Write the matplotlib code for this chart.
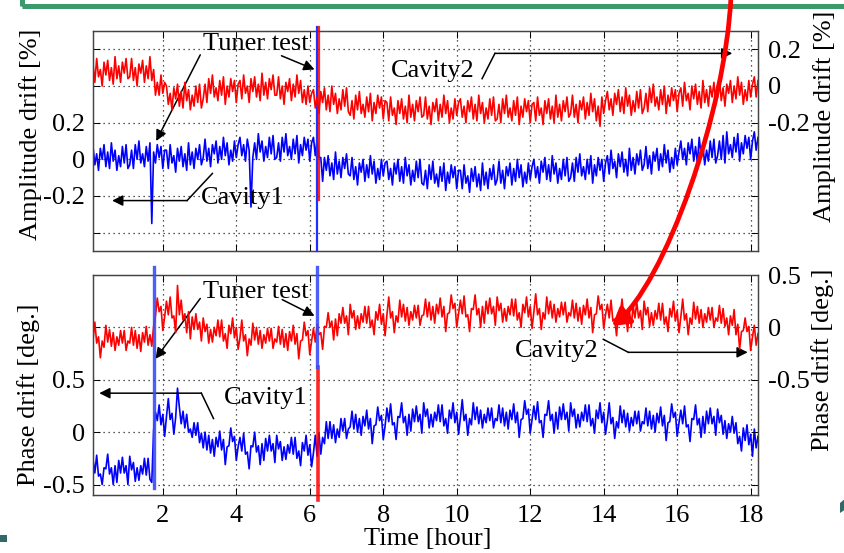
import numpy as np
import matplotlib
matplotlib.use("Agg")
import matplotlib.pyplot as plt
from matplotlib.path import Path
from matplotlib.patches import FancyArrowPatch, Rectangle, Polygon
from matplotlib.lines import Line2D

plt.rcParams['font.family'] = ['Liberation Serif', 'DejaVu Serif']
plt.rcParams['font.size'] = 19

# ---------------------------------------------------------------- data
# sampling of the logged drifts (hours); one row below = one hour
t_start = 0.1
t_step = 0.05

# amplitude drift [%], cavity 1 (left axis)
amp_cavity1 = [
    0.07, -0.03, 0.03, -0.06, 0.06, 0.00, 0.08, -0.04, 0.04, -0.05, 0.09, -0.01, 0.05, -0.06, 0.02, -0.04, 0.07, -0.02, 0.08, -0.05,
    -0.03, 0.05, -0.05, 0.08, 0.00, 0.10, -0.02, 0.03, -0.04, 0.07, -0.01, 0.09, -0.35, 0.04, -0.02, 0.08, 0.01, 0.07, -0.05, 0.05,
    0.05, -0.05, 0.08, -0.02, 0.02, -0.07, 0.06, -0.01, 0.07, -0.04, 0.03, -0.06, 0.09, -0.03, 0.04, -0.05, 0.06, 0.00, 0.08, -0.03,
    0.01, 0.11, -0.01, 0.06, -0.04, 0.08, 0.03, 0.10, -0.02, 0.07, 0.00, 0.12, 0.02, 0.09, -0.03, 0.05, -0.01, 0.10, 0.01, 0.08,
    0.12, 0.02, 0.08, -0.01, 0.11, 0.05, -0.26, 0.01, 0.09, 0.00, 0.14, 0.04, 0.10, -0.01, 0.07, 0.01, 0.12, 0.03, 0.13, 0.00,
    0.01, 0.09, -0.01, 0.12, 0.04, 0.14, 0.02, 0.07, 0.00, 0.11, 0.03, 0.13, -0.02, 0.08, 0.02, 0.12, 0.05, 0.11, -0.01, 0.09,
    0.12, 0.02, 0.11, 0.01, 0.01, -0.12, 0.01, -0.06, 0.02, -0.09, -0.02, -0.11, 0.04, -0.08, -0.01, -0.10, 0.01, -0.05, 0.03, -0.08,
    -0.09, 0.01, -0.11, -0.04, -0.14, -0.02, -0.07, 0.00, -0.12, -0.03, -0.10, 0.02, -0.08, -0.01, -0.13, -0.05, -0.11, 0.00, -0.09, -0.02,
    -0.01, -0.11, -0.05, -0.14, -0.02, -0.08, 0.00, -0.12, -0.04, -0.13, 0.01, -0.09, -0.03, -0.14, -0.06, -0.12, -0.01, -0.10, 0.00, -0.13,
    -0.14, -0.06, -0.16, -0.03, -0.11, -0.01, -0.13, -0.08, -0.15, -0.04, -0.12, -0.02, -0.17, -0.07, -0.13, -0.03, -0.10, -0.04, -0.16, -0.06,
    -0.06, -0.16, -0.03, -0.13, -0.09, -0.18, -0.05, -0.12, -0.04, -0.15, -0.08, -0.17, -0.02, -0.14, -0.07, -0.16, -0.05, -0.11, -0.03, -0.14,
    -0.11, -0.01, -0.13, -0.06, -0.16, -0.04, -0.09, -0.02, -0.14, -0.05, -0.12, 0.00, -0.10, -0.03, -0.15, -0.07, -0.13, -0.02, -0.11, -0.04,
    0.00, -0.10, -0.04, -0.13, -0.01, -0.07, 0.01, -0.11, -0.03, -0.12, 0.02, -0.08, -0.02, -0.13, -0.05, -0.11, 0.00, -0.09, 0.01, -0.12,
    -0.10, -0.02, -0.12, 0.01, -0.07, 0.03, -0.09, -0.04, -0.11, 0.00, -0.08, 0.02, -0.13, -0.03, -0.09, 0.01, -0.06, 0.00, -0.12, -0.02,
    0.02, -0.08, 0.05, -0.05, -0.01, -0.10, 0.03, -0.04, 0.04, -0.07, 0.00, -0.09, 0.06, -0.06, 0.01, -0.08, 0.03, -0.03, 0.05, -0.06,
    -0.03, 0.07, -0.05, 0.02, -0.08, 0.04, -0.01, 0.06, -0.06, 0.03, -0.04, 0.08, -0.02, 0.05, -0.07, 0.01, -0.05, 0.06, -0.03, 0.04,
    0.10, 0.00, 0.06, -0.03, 0.09, 0.03, 0.11, -0.01, 0.07, -0.02, 0.12, 0.02, 0.08, -0.03, 0.05, -0.01, 0.10, 0.01, 0.11, -0.02,
    0.02, 0.10, 0.00, 0.13, -0.02, 0.15, 0.03, 0.08, 0.01, 0.12, 0.04, 0.14, -0.01, 0.09, 0.03, 0.13, 0.06, 0.12, 0.00, 0.10,
    0.15, 0.05, 0.12,
]

# amplitude drift [%], cavity 2 (right axis)
amp_cavity2 = [
    0.12, 0.02, 0.15, 0.05, 0.09, 0.00, 0.13, 0.06, 0.14, 0.03, 0.10, 0.01, 0.16, 0.04, 0.11, 0.02, 0.13, 0.07, 0.15, 0.04,
    0.05, 0.15, 0.03, 0.10, 0.00, 0.12, 0.07, 0.14, 0.02, 0.11, 0.04, 0.16, 0.03, 0.09, -0.05, 0.02, -0.05, 0.06, -0.04, 0.02,
    0.00, -0.10, -0.04, -0.13, -0.01, -0.07, 0.01, -0.11, -0.03, -0.12, 0.02, -0.08, -0.02, -0.13, -0.05, -0.11, 0.00, -0.09, 0.01, -0.12,
    -0.07, 0.01, -0.09, 0.04, -0.04, 0.06, -0.06, -0.01, -0.08, 0.03, -0.05, 0.05, -0.10, 0.00, -0.06, 0.04, -0.03, 0.03, -0.09, 0.01,
    0.03, -0.07, 0.06, -0.04, 0.00, -0.09, 0.04, -0.03, 0.05, -0.06, 0.01, -0.08, 0.07, -0.05, 0.02, -0.07, 0.04, -0.02, 0.06, -0.05,
    -0.05, 0.05, -0.07, 0.00, -0.10, 0.02, -0.03, 0.04, -0.08, 0.01, -0.06, 0.06, -0.04, 0.03, -0.09, -0.02, -0.10, 0.00, -0.09, -0.04,
    -0.02, -0.12, -0.06, -0.15, -0.03, -0.09, -0.01, -0.13, -0.05, -0.14, 0.00, -0.10, -0.04, -0.15, -0.07, -0.13, -0.02, -0.11, -0.01, -0.14,
    -0.16, -0.08, -0.18, -0.05, -0.13, -0.03, -0.15, -0.10, -0.17, -0.06, -0.14, -0.04, -0.19, -0.09, -0.15, -0.05, -0.12, -0.06, -0.18, -0.08,
    -0.09, -0.19, -0.06, -0.16, -0.12, -0.21, -0.08, -0.15, -0.07, -0.18, -0.11, -0.20, -0.05, -0.17, -0.10, -0.19, -0.08, -0.14, -0.06, -0.17,
    -0.16, -0.06, -0.18, -0.11, -0.21, -0.09, -0.14, -0.07, -0.19, -0.10, -0.17, -0.05, -0.15, -0.08, -0.20, -0.12, -0.18, -0.07, -0.16, -0.09,
    -0.07, -0.17, -0.11, -0.20, -0.08, -0.14, -0.06, -0.18, -0.10, -0.19, -0.05, -0.15, -0.09, -0.20, -0.12, -0.18, -0.07, -0.16, -0.06, -0.19,
    -0.18, -0.10, -0.20, -0.07, -0.15, -0.05, -0.17, -0.12, -0.19, -0.08, -0.16, -0.06, -0.21, -0.11, -0.17, -0.07, -0.14, -0.08, -0.20, -0.10,
    -0.09, -0.19, -0.06, -0.16, -0.12, -0.21, -0.08, -0.15, -0.07, -0.18, -0.11, -0.20, -0.05, -0.17, -0.10, -0.19, -0.08, -0.14, -0.06, -0.17,
    -0.15, -0.05, -0.17, -0.10, -0.20, -0.08, -0.13, -0.06, -0.18, -0.09, -0.16, -0.04, -0.14, -0.07, -0.19, -0.11, -0.22, -0.06, -0.15, -0.08,
    -0.03, -0.13, -0.07, -0.16, -0.04, -0.10, -0.02, -0.14, -0.06, -0.15, -0.01, -0.11, -0.05, -0.16, -0.08, -0.14, -0.03, -0.12, -0.02, -0.15,
    -0.12, -0.04, -0.14, -0.01, -0.09, 0.01, -0.11, -0.06, -0.13, -0.02, -0.10, 0.00, -0.15, -0.05, -0.11, -0.01, -0.08, -0.02, -0.14, -0.04,
    -0.01, -0.11, 0.02, -0.08, -0.04, -0.13, 0.00, -0.07, 0.01, -0.10, -0.03, -0.12, 0.03, -0.09, -0.02, -0.11, 0.00, -0.06, 0.02, -0.09,
    -0.06, 0.04, -0.08, -0.01, -0.11, 0.01, -0.04, 0.03, -0.09, 0.00, -0.07, 0.05, -0.05, 0.02, -0.10, -0.02, -0.08, 0.03, -0.06, 0.01,
    0.05, -0.06, 0.03,
]

# phase drift [deg.], cavity 1 (left axis)
phase_cavity1 = [
    -0.26, -0.39, -0.22, -0.42, -0.40, -0.50, -0.34, -0.35, -0.21, -0.40, -0.34, -0.50, -0.32, -0.48, -0.27, -0.39, -0.24, -0.39, -0.32, -0.50,
    -0.23, -0.36, -0.29, -0.47, -0.34, -0.46, -0.32, -0.40, -0.25, -0.41, -0.25, -0.45, -0.48, 0.02, 0.19, 0.11, 0.26, 0.07, 0.17, -0.04,
    0.15, 0.32, 0.12, 0.18, -0.02, 0.14, 0.42, 0.24, 0.08, 0.20, 0.04, 0.17, 0.00, 0.03, -0.05, 0.09, -0.03, 0.09, -0.10, -0.01,
    -0.15, 0.00, -0.17, -0.03, -0.20, -0.07, -0.23, -0.05, -0.14, 0.01, -0.17, -0.07, -0.31, -0.14, -0.13, 0.04, -0.09, -0.04, -0.27, -0.14,
    -0.05, -0.18, -0.01, -0.21, -0.19, -0.35, -0.13, -0.14, 0.00, -0.19, -0.13, -0.31, -0.11, -0.27, -0.06, -0.18, -0.03, -0.18, -0.11, -0.29,
    -0.03, -0.16, -0.09, -0.27, -0.14, -0.26, -0.12, -0.20, -0.05, -0.21, -0.05, -0.25, -0.18, -0.32, -0.10, -0.18, -0.03, -0.22, -0.12, -0.33,
    -0.20, -0.03, -0.23, -0.01, -0.21, -0.05, -0.11, 0.10, -0.06, 0.10, -0.06, 0.07, -0.10, 0.03, -0.05, 0.13, 0.01, 0.13, -0.06, 0.03,
    0.05, 0.20, 0.03, 0.17, 0.00, 0.13, -0.03, 0.15, 0.06, 0.21, 0.03, 0.13, -0.11, 0.06, 0.07, 0.24, 0.11, 0.16, -0.07, 0.06,
    0.23, 0.10, 0.27, 0.07, 0.09, -0.07, 0.15, 0.14, 0.28, 0.09, 0.15, -0.03, 0.17, 0.01, 0.22, 0.10, 0.25, 0.10, 0.17, -0.01,
    0.28, 0.15, 0.22, 0.04, 0.17, 0.05, 0.19, 0.11, 0.26, 0.10, 0.26, 0.06, 0.13, -0.01, 0.21, 0.13, 0.28, 0.09, 0.19, -0.02,
    0.14, 0.31, 0.11, 0.17, -0.03, 0.13, 0.07, 0.28, 0.12, 0.24, 0.08, 0.21, 0.04, 0.17, 0.09, 0.23, 0.11, 0.23, 0.04, 0.13,
    0.11, 0.26, 0.09, 0.23, 0.06, 0.19, 0.03, 0.21, 0.12, 0.27, 0.09, 0.19, -0.05, 0.12, 0.13, 0.30, 0.17, 0.22, -0.01, 0.12,
    0.25, 0.12, 0.29, 0.09, 0.11, -0.05, 0.17, 0.16, 0.30, 0.11, 0.17, -0.01, 0.19, 0.03, 0.24, 0.12, 0.27, 0.12, 0.19, 0.01,
    0.28, 0.15, 0.22, 0.04, 0.17, 0.05, 0.19, 0.11, 0.26, 0.10, 0.26, 0.06, 0.13, -0.01, 0.21, 0.13, 0.28, 0.09, 0.19, -0.02,
    0.11, 0.28, 0.08, 0.14, -0.06, 0.10, 0.04, 0.25, 0.09, 0.21, 0.05, 0.18, 0.01, 0.14, 0.06, 0.20, 0.08, 0.20, 0.01, 0.10,
    0.08, 0.23, 0.06, 0.20, 0.03, 0.16, 0.00, 0.18, 0.09, 0.24, 0.06, 0.16, -0.08, 0.09, 0.10, 0.27, 0.14, 0.19, -0.04, 0.09,
    0.21, 0.08, 0.25, 0.05, 0.07, -0.09, 0.13, 0.12, 0.26, 0.07, 0.13, -0.05, 0.15, -0.01, 0.20, 0.08, 0.23, 0.08, 0.15, -0.03,
    0.22, 0.09, 0.16, -0.02, 0.11, -0.06, 0.08, 0.00, 0.15, -0.01, 0.09, -0.11, -0.04, -0.18, 0.04, -0.08, 0.07, -0.12, -0.02, -0.23,
    0.03, -0.15, -0.04,
]

# phase drift [deg.], cavity 2 (right axis)
phase_cavity2 = [
    -0.12, 0.05, -0.15, -0.09, -0.29, -0.13, -0.19, 0.02, -0.14, -0.02, -0.18, -0.05, -0.22, -0.09, -0.17, -0.03, -0.15, -0.03, -0.22, -0.13,
    -0.15, 0.00, -0.17, -0.03, -0.20, -0.07, -0.23, -0.05, -0.14, 0.01, -0.17, -0.07, -0.18, 0.01, 0.11, 0.28, 0.15, 0.20, -0.03, 0.10,
    0.25, 0.12, 0.29, 0.09, 0.11, -0.05, 0.40, 0.12, 0.26, 0.07, 0.13, -0.05, 0.15, -0.11, 0.10, -0.02, 0.13, -0.02, 0.05, -0.13,
    0.09, -0.04, 0.03, -0.15, -0.02, -0.14, 0.00, -0.08, 0.07, -0.09, 0.07, -0.13, -0.06, -0.20, 0.02, -0.06, 0.09, -0.10, 0.00, -0.21,
    -0.10, 0.07, -0.13, -0.07, -0.27, -0.11, -0.17, 0.04, -0.12, 0.00, -0.16, -0.03, -0.20, -0.07, -0.15, -0.01, -0.13, -0.01, -0.20, -0.11,
    -0.14, 0.01, -0.16, -0.02, -0.19, -0.06, -0.22, -0.04, -0.13, 0.02, -0.16, -0.06, -0.30, -0.13, -0.12, 0.05, -0.08, -0.03, -0.26, -0.13,
    -0.01, -0.14, 0.03, -0.07, -0.05, -0.21, 0.01, 0.00, 0.14, 0.00, 0.06, -0.12, 0.08, -0.08, 0.13, 0.04, 0.19, 0.04, 0.11, -0.07,
    0.22, 0.09, 0.16, -0.02, 0.11, -0.01, 0.13, 0.05, 0.20, 0.04, 0.20, 0.00, 0.07, -0.07, 0.15, 0.07, 0.22, 0.03, 0.13, -0.08,
    0.12, 0.29, 0.09, 0.15, -0.05, 0.11, 0.05, 0.26, 0.10, 0.22, 0.06, 0.19, 0.02, 0.15, 0.07, 0.21, 0.09, 0.21, 0.02, 0.11,
    0.12, 0.27, 0.10, 0.24, 0.07, 0.20, 0.04, 0.22, 0.13, 0.28, 0.10, 0.20, -0.04, 0.13, 0.14, 0.31, 0.18, 0.23, 0.00, 0.13,
    0.26, 0.13, 0.30, 0.10, 0.12, -0.04, 0.18, 0.17, 0.31, 0.12, 0.18, 0.00, 0.20, 0.04, 0.25, 0.13, 0.28, 0.13, 0.20, 0.02,
    0.29, 0.16, 0.23, 0.05, 0.18, 0.06, 0.20, 0.12, 0.27, 0.11, 0.27, 0.07, 0.14, 0.00, 0.22, 0.14, 0.29, 0.10, 0.20, -0.01,
    0.15, 0.32, 0.12, 0.18, -0.02, 0.14, 0.08, 0.29, 0.13, 0.25, 0.09, 0.22, 0.05, 0.18, 0.10, 0.24, 0.12, 0.24, 0.05, 0.14,
    0.11, 0.26, 0.09, 0.23, 0.06, 0.19, 0.03, 0.21, 0.12, 0.27, 0.09, 0.19, -0.05, 0.12, 0.13, 0.30, 0.17, 0.22, -0.01, 0.12,
    0.22, 0.09, 0.26, 0.06, 0.08, -0.08, 0.14, 0.13, 0.27, 0.08, 0.14, -0.04, 0.16, 0.00, 0.21, 0.09, 0.24, 0.09, 0.16, -0.02,
    0.25, 0.12, 0.19, 0.01, 0.14, 0.02, 0.16, 0.08, 0.23, 0.07, 0.23, 0.03, 0.10, -0.04, 0.18, 0.10, 0.25, 0.06, 0.16, -0.05,
    0.10, 0.27, 0.07, 0.13, -0.07, 0.09, 0.03, 0.24, 0.08, 0.20, 0.04, 0.17, 0.00, 0.13, 0.05, 0.19, 0.07, 0.19, 0.00, 0.09,
    0.06, 0.21, 0.04, 0.18, 0.01, 0.09, -0.07, 0.11, 0.02, 0.17, -0.07, 0.03, -0.21, -0.04, -0.03, 0.09, -0.04, 0.01, -0.22, -0.09,
    0.02, -0.17, -0.06,
]

# times of the tuner tests (hours) as marked on each panel
amp_marks_blue = [6.19]
amp_marks_red = [6.25]
phase_marks_blue = [1.75, 6.19]
phase_marks_red = [6.23]

x_ticks = [2, 4, 6, 8, 10, 12, 14, 16, 18]
x_limits = (0.1, 18.2)

amp_left_ticks = [-0.4, -0.2, 0.0, 0.2, 0.4, 0.6]
amp_left_labels = ['', '-0.2', '0', '0.2', '', '']
amp_right_ticks = [-0.8, -0.6, -0.4, -0.2, 0.0, 0.2]
amp_right_labels = ['', '', '', '-0.2', '0', '0.2']
amp_left_lim = (-0.5, 0.7)
amp_offset = 0.4          # right scale = left scale - offset

phase_left_ticks = [-0.5, 0.0, 0.5, 1.0]
phase_left_labels = ['-0.5', '0', '0.5', '']
phase_right_ticks = [-1.5, -1.0, -0.5, 0.0, 0.5]
phase_right_labels = ['', '', '-0.5', '0', '0.5']
phase_left_lim = (-0.6, 1.5)
phase_offset = 1.0

RED = '#ff0000'
BLUE = '#0000ff'
TRACE_LW = 1.2
W, H = 845, 553


def fx(px):
    return px / W


def fy(py):
    return 1 - py / H


fig = plt.figure(figsize=(W / 100, H / 100), dpi=100)
fig.patch.set_facecolor('white')

ax_amp = fig.add_axes([fx(93), fy(251), 665 / W, 220 / H])
ax_ph = fig.add_axes([fx(93), fy(495), 665 / W, 220 / H])


def times(series):
    return t_start + t_step * np.arange(len(series))


def style_axes(ax, ax2, lticks, llabels, rticks, rlabels, llim, offset, xlabels):
    ax.set_xlim(*x_limits)
    ax.set_ylim(*llim)
    ax2.set_ylim(llim[0] - offset, llim[1] - offset)
    ax.set_xticks(x_ticks)
    if xlabels:
        ax.set_xticklabels([str(v) for v in x_ticks])
    else:
        ax.set_xticklabels([])
    ax.set_yticks(lticks)
    ax.set_yticklabels(llabels)
    ax2.set_yticks(rticks)
    ax2.set_yticklabels(rlabels)
    ax.grid(True, linestyle=(0, (1, 3)), color='#222222', linewidth=0.9)
    ax.tick_params(axis='x', direction='in', top=True, bottom=True, length=5,
                   width=0.7, pad=7, labelsize=19)
    ax.tick_params(axis='y', direction='in', left=True, right=False, length=5,
                   width=0.7, pad=6, labelsize=19)
    ax2.tick_params(axis='y', direction='in', right=True, length=5,
                    width=0.7, pad=7, labelsize=19)
    for a in (ax, ax2):
        for s in a.spines.values():
            s.set_color('#444444')
            s.set_linewidth(0.9)


# ---------------------------------------------------------------- amplitude
ax_amp2 = ax_amp.twinx()
ax_amp.plot(times(amp_cavity1), amp_cavity1, color=BLUE, lw=TRACE_LW)
ax_amp2.plot(times(amp_cavity2), amp_cavity2, color=RED, lw=TRACE_LW)
style_axes(ax_amp, ax_amp2, amp_left_ticks, amp_left_labels, amp_right_ticks,
           amp_right_labels, amp_left_lim, amp_offset, False)

for xv in amp_marks_blue:
    ax_amp.add_line(Line2D([xv, xv], [0, 1.018], transform=ax_amp.get_xaxis_transform(),
                           color='#2030ff', lw=1.6, clip_on=False, zorder=5))
for xv in amp_marks_red:
    ax_amp2.add_line(Line2D([xv, xv], [0.23, 1.018], transform=ax_amp2.get_xaxis_transform(),
                            color=RED, lw=1.6, clip_on=False, zorder=5, alpha=0.85))

# ---------------------------------------------------------------- phase
ax_ph2 = ax_ph.twinx()
ax_ph.plot(times(phase_cavity1), phase_cavity1, color=BLUE, lw=TRACE_LW)
ax_ph2.plot(times(phase_cavity2), phase_cavity2, color=RED, lw=TRACE_LW)
style_axes(ax_ph, ax_ph2, phase_left_ticks, phase_left_labels, phase_right_ticks,
           phase_right_labels, phase_left_lim, phase_offset, True)

for xv in phase_marks_red:
    ax_ph2.add_line(Line2D([xv, xv], [-0.023, 0.58], transform=ax_ph2.get_xaxis_transform(),
                           color=RED, lw=2.6, clip_on=False, zorder=5, alpha=0.85))
for xv in phase_marks_blue:
    y0 = 0.03 if xv < 3 else 0.58
    ax_ph2.add_line(Line2D([xv, xv], [y0, 1.036], transform=ax_ph2.get_xaxis_transform(),
                           color='#3a4df5', lw=2.4, clip_on=False, zorder=6, alpha=0.9))

# ---------------------------------------------------------------- annotations
ARROW = dict(arrowstyle='-|>', color='black', lw=1.1, shrinkA=0, shrinkB=0,
             mutation_scale=16)


def bent_arrow(ax, pts):
    xs = [p[0] for p in pts[:-1]]
    ys = [p[1] for p in pts[:-1]]
    ax.plot(xs, ys, color='black', lw=1.1, clip_on=False, zorder=7)
    ax.annotate('', xy=pts[-1], xytext=pts[-2], arrowprops=ARROW,
                annotation_clip=False, zorder=7)


# amplitude panel (left-axis coordinates)
ax_amp.text(4.52, 0.628, 'Tuner test', ha='center', va='center', zorder=8)
ax_amp.annotate('', xy=(1.82, 0.10), xytext=(3.02, 0.57), arrowprops=ARROW, zorder=7)
ax_amp.annotate('', xy=(6.13, 0.49), xytext=(5.23, 0.565), arrowprops=ARROW, zorder=7)
ax_amp.text(4.17, -0.213, 'Cavity1', ha='center', va='center', zorder=8)
bent_arrow(ax_amp, [(3.35, -0.077), (2.66, -0.225), (0.62, -0.225)])
ax_amp.text(9.35, 0.48, 'Cavity2', ha='center', va='center', zorder=8)
bent_arrow(ax_amp, [(10.69, 0.44), (11.04, 0.578), (17.5, 0.578)])

# phase panel (left-axis coordinates)
ax_ph.text(4.52, 1.333, 'Tuner test', ha='center', va='center', zorder=8)
ax_ph.annotate('', xy=(1.80, 0.70), xytext=(3.02, 1.276), arrowprops=ARROW, zorder=7)
ax_ph.annotate('', xy=(6.13, 1.11), xytext=(5.25, 1.265), arrowprops=ARROW, zorder=7)
ax_ph.text(4.80, 0.324, 'Cavity1', ha='center', va='center', zorder=8)
bent_arrow(ax_ph, [(3.38, 0.13), (3.05, 0.372), (0.27, 0.372)])
ax_ph.text(12.73, 0.77, 'Cavity2', ha='center', va='center', zorder=8)
bent_arrow(ax_ph, [(13.99, 0.886), (14.67, 0.762), (17.92, 0.762)])

# ---------------------------------------------------------------- axis titles
fig.text(fx(31), fy(134), 'Amplitude drift [%]', rotation=90, ha='center', va='center')
fig.text(fx(825), fy(116), 'Amplitude drift [%]', rotation=90, ha='center', va='center')
fig.text(fx(29), fy(395), 'Phase drift [deg.]', rotation=90, ha='center', va='center')
fig.text(fx(823), fy(360), 'Phase drift [deg.]', rotation=90, ha='center', va='center')
fig.text(fx(428), fy(539), 'Time [hour]', ha='center', va='center')

# ---------------------------------------------------------------- slide frame
fig.add_artist(Rectangle((fx(22.5), fy(5.8)), fx(900), 0.1, transform=fig.transFigure,
                         fill=False, edgecolor='#3b9a6c', lw=3.6, zorder=1))
fig.add_artist(Rectangle((0, fy(542)), fx(7), 7 / H, transform=fig.transFigure,
                         facecolor='#2f6a68', edgecolor='none'))
fig.add_artist(Polygon([(fx(840), fy(503)), (fx(846), fy(498)), (fx(846), fy(509)),
                        (fx(840), fy(513))], closed=True, transform=fig.transFigure,
                       facecolor='#2f6a68', edgecolor='none'))

# hand-drawn highlight arrow
verts = [(fx(731), fy(-4)), (fx(726), fy(110)), (fx(665), fy(285)), (fx(612), fy(326))]
codes = [Path.MOVETO, Path.CURVE4, Path.CURVE4, Path.CURVE4]
fig.add_artist(FancyArrowPatch(path=Path(verts, codes), transform=fig.transFigure,
                               arrowstyle='-|>,head_length=0.5,head_width=0.3',
                               mutation_scale=20, color=RED, lw=3.4, zorder=20))

fig.savefig('out.png', dpi=100, facecolor='white')
